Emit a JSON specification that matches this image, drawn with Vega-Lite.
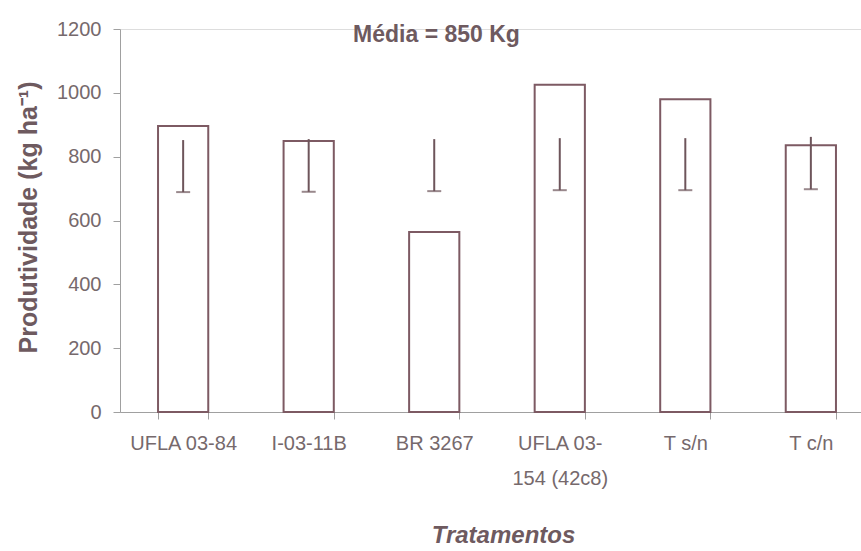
{
  "$schema": "https://vega.github.io/schema/vega-lite/v6.json",
  "width": 741,
  "height": 383,
  "autosize": {"type": "none"},
  "padding": {"left": 120, "top": 29, "right": 0, "bottom": 139},
  "background": "white",
  "title": {
    "text": "Média = 850 Kg",
    "frame": "group",
    "anchor": "middle",
    "baseline": "alphabetic",
    "offset": -30,
    "dx": -54,
    "dy": 16,
    "font": "Liberation Sans, Arial, sans-serif",
    "fontSize": 23,
    "fontWeight": "bold",
    "color": "#6e5a5f"
  },
  "data": {
    "values": [
      {"trat": "UFLA 03-84", "prod": 896, "lo": 689, "hi": 852},
      {"trat": "I-03-11B", "prod": 849, "lo": 690, "hi": 855},
      {"trat": "BR 3267", "prod": 564, "lo": 692, "hi": 855},
      {"trat": "UFLA 03-154 (42c8)", "prod": 1025, "lo": 695, "hi": 858},
      {"trat": "T s/n", "prod": 980, "lo": 695, "hi": 858},
      {"trat": "T c/n", "prod": 836, "lo": 698, "hi": 862}
    ]
  },
  "encoding": {
    "x": {
      "field": "trat",
      "type": "nominal",
      "sort": null,
      "scale": {"range": [0, 754], "paddingInner": 0.6, "paddingOuter": 0.303},
      "axis": {
        "title": "Tratamentos",
        "titleFont": "Liberation Sans, Arial, sans-serif",
        "titleFontSize": 24,
        "titleFontWeight": "bold",
        "titleFontStyle": "italic",
        "titleColor": "#6e5a5f",
        "titleX": 383,
        "titleY": 130,
        "titleBaseline": "alphabetic",
        "titleAnchor": "middle",
        "labelAngle": 0,
        "labelFont": "Liberation Sans Narrow, Arial Narrow, Liberation Sans, sans-serif",
        "labelFontSize": 20,
        "labelColor": "#76696c",
        "labelPadding": 14,
        "labelLineHeight": 35,
        "labelExpr": "datum.label == 'UFLA 03-154 (42c8)' ? ['UFLA 03-', '154 (42c8)'] : datum.label",
        "tickBand": "extent",
        "tickSize": 7,
        "tickColor": "#a0a0a0",
        "domainColor": "#a0a0a0",
        "labelOverlap": false
      }
    }
  },
  "layer": [
    {
      "mark": {"type": "bar", "fill": "white", "stroke": "#7d5a63", "strokeWidth": 2},
      "encoding": {
        "y": {
          "field": "prod",
          "type": "quantitative",
          "scale": {"domain": [0, 1200]},
          "axis": {
            "title": "Produtividade (kg ha⁻¹)",
            "titleFont": "Liberation Sans, Arial, sans-serif",
            "titleFontSize": 25,
            "titleFontWeight": "bold",
            "titleColor": "#6e5a5f",
            "titleAngle": -90,
            "titleX": -84,
            "titleY": 188,
            "titleBaseline": "alphabetic",
            "titleAnchor": "middle",
            "values": [0, 200, 400, 600, 800, 1000, 1200],
            "format": "d",
            "grid": false,
            "labelFont": "Liberation Sans, Arial, sans-serif",
            "labelFontSize": 20,
            "labelColor": "#76696c",
            "labelPadding": 12,
            "tickSize": 7,
            "tickColor": "#a0a0a0",
            "domainColor": "#a0a0a0"
          }
        }
      }
    },
    {
      "mark": {"type": "rule", "stroke": "#6e555b", "strokeWidth": 2},
      "encoding": {
        "y": {"field": "lo", "type": "quantitative"},
        "y2": {"field": "hi"}
      }
    },
    {
      "mark": {"type": "tick", "color": "#6e555b", "thickness": 2, "orient": "horizontal"},
      "encoding": {
        "y": {"field": "lo", "type": "quantitative"},
        "size": {"value": 14}
      }
    }
  ]
}
